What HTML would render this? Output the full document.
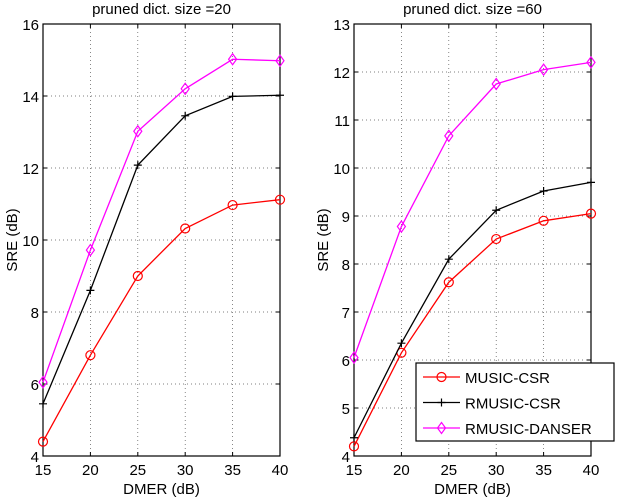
<!DOCTYPE html>
<html><head><meta charset="utf-8"><style>
body{margin:0;background:#fff;font-family:"Liberation Sans",Arial,sans-serif}
svg text{font-family:"Liberation Sans",Arial,sans-serif}
</style></head><body>
<svg id="c" width="618" height="498" xmlns="http://www.w3.org/2000/svg"></svg>
<script>
const categories=[15,20,25,30,35,40];
const leftMusic=[4.4,6.8,9.0,10.32,10.97,11.12];
const leftRmusic=[5.45,8.6,12.08,13.45,13.99,14.02];
const leftDanser=[6.05,9.72,13.02,14.2,15.02,14.98];
const rightMusic=[4.2,6.15,7.62,8.52,8.9,9.05];
const rightRmusic=[4.38,6.35,8.1,9.12,9.52,9.7];
const rightDanser=[6.05,8.78,10.67,11.75,12.05,12.2];
const leftTicks=[4,6,8,10,12,14,16];
const rightTicks=[4,5,6,7,8,9,10,11,12,13];
const seriesNames=["MUSIC-CSR","RMUSIC-CSR","RMUSIC-DANSER"];
const colors=["#ff0000","#000000","#ff00ff"];
const NS="http://www.w3.org/2000/svg";
const svg=document.getElementById('c');
function mk(t,a,p){const e=document.createElementNS(NS,t);for(const k in a)e.setAttribute(k,a[k]);(p||svg).appendChild(e);return e;}
function marker(g,kind,x,y,c){
 if(kind===0){const e=mk('circle',{cx:x,cy:y,r:4.5,fill:'none',stroke:c,'stroke-width':1.2},g);}
 else if(kind===1){const e=mk('path',{d:`M${x-4},${y}H${x+4}M${x},${y-4}V${y+4}`,stroke:c,'stroke-width':1.2},g);}
 else {const e=mk('path',{d:`M${x},${y-5.5}L${x+4},${y}L${x},${y+5.5}L${x-4},${y}Z`,fill:'none',stroke:c,'stroke-width':1.2},g);}
}
function panel(name,x0,x1,y0,y1,ymin,ymax,ticks,title,series){
 const g=mk('g',{});
 
 
 const X=v=>x0+(v-15)/(40-15)*(x1-x0);
 const Y=v=>y1-(v-ymin)/(ymax-ymin)*(y1-y0);
 categories.forEach(c=>{
  if(c!==15&&c!==40){const l=mk('line',{x1:X(c),x2:X(c),y1:y0,y2:y1,stroke:'#555','stroke-width':0.7,'stroke-dasharray':'1,3'},g);}
  mk('line',{x1:X(c),x2:X(c),y1:y1,y2:y1-4,stroke:'#000'},g);
  mk('line',{x1:X(c),x2:X(c),y1:y0,y2:y0+4,stroke:'#000'},g);
  const t=mk('text',{x:X(c),y:y1+19,'text-anchor':'middle','font-size':15},g);t.textContent=c;
  
 });
 ticks.forEach(v=>{
  if(v!==ymin&&v!==ymax){const l=mk('line',{x1:x0,x2:x1,y1:Y(v),y2:Y(v),stroke:'#555','stroke-width':0.7,'stroke-dasharray':'1,3'},g);}
  mk('line',{x1:x0,x2:x0+4,y1:Y(v),y2:Y(v),stroke:'#000'},g);
  mk('line',{x1:x1,x2:x1-4,y1:Y(v),y2:Y(v),stroke:'#000'},g);
  const t=mk('text',{x:x0-4,y:Y(v)+6,'text-anchor':'end','font-size':15},g);t.textContent=v;
  
 });
 const r=mk('rect',{x:x0,y:y0,width:x1-x0,height:y1-y0,fill:'none',stroke:'#000','stroke-width':1.2},g);
 
 const tt=mk('text',{x:(x0+x1)/2,y:y0-10,'text-anchor':'middle','font-size':15},g);tt.textContent=title;
 
 const xl=mk('text',{x:(x0+x1)/2,y:y1+38,'text-anchor':'middle','font-size':15},g);xl.textContent='DMER (dB)';
 
 const yl=mk('text',{x:0,y:0,'text-anchor':'middle','font-size':15,transform:`translate(${x0-26},${(y0+y1)/2}) rotate(-90)`},g);yl.textContent='SRE (dB)';
 
 series.forEach((s,i)=>{
  const pts=s.map((v,j)=>X(categories[j])+','+Y(v)).join(' ');
  const pl=mk('polyline',{points:pts,fill:'none',stroke:colors[i],'stroke-width':1.3},g);
  
  s.forEach((v,j)=>marker(g,i,X(categories[j]),Y(v),colors[i]));
 });
}
panel('left-panel',43,280,24,456,4,16,leftTicks,'pruned dict. size =20',[leftMusic,leftRmusic,leftDanser]);
panel('right-panel',354,591,24,456,4,13,rightTicks,'pruned dict. size =60',[rightMusic,rightRmusic,rightDanser]);
const lg=mk('g',{});


mk('rect',{x:416,y:363,width:198,height:78,fill:'#fff',stroke:'#000','stroke-width':1.2},lg);
seriesNames.forEach((n,i)=>{
 const y=377+i*25.5;
 const e=mk('g',{},lg);
 
 
 mk('line',{x1:423,x2:460,y1:y,y2:y,stroke:colors[i],'stroke-width':1.3},e);
 marker(e,i,441.5,y,colors[i]);
 const t=mk('text',{x:465,y:y+6,'font-size':15},e);t.textContent=n;
});
</script>
</body></html>
